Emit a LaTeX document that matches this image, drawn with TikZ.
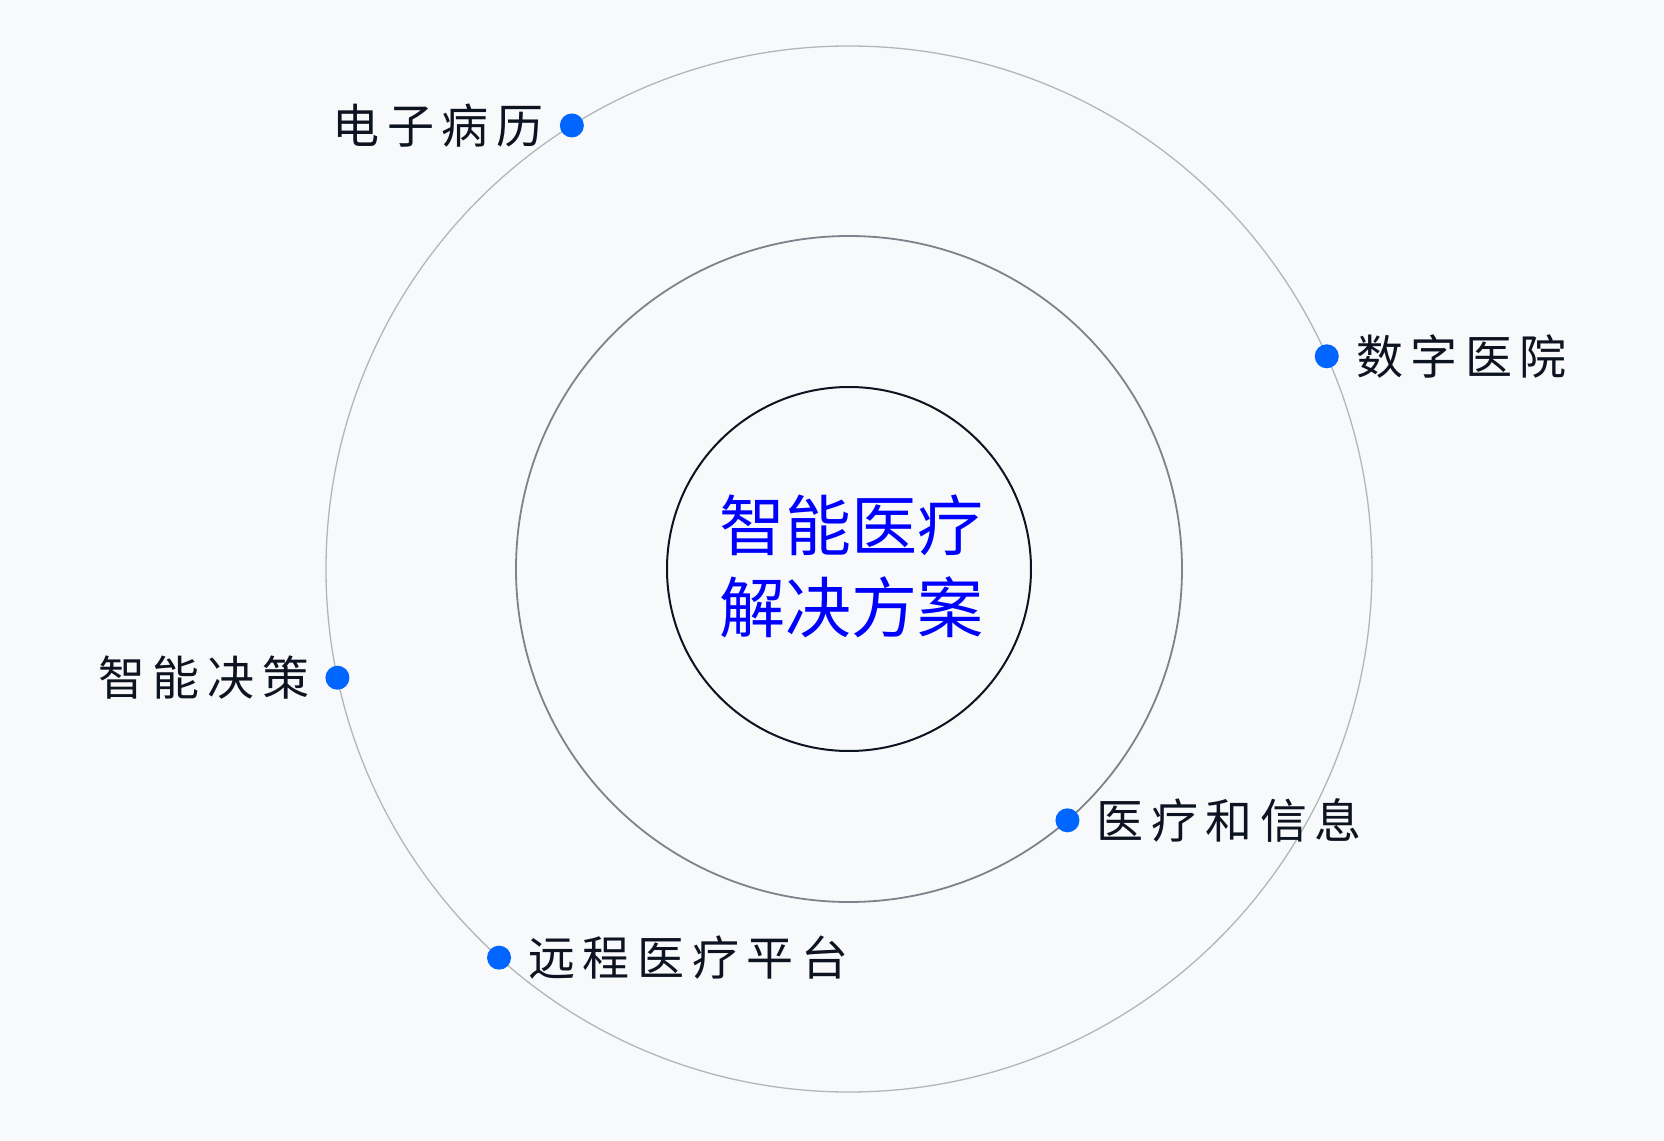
\documentclass[tikz,border=0pt]{standalone}
\usepackage{fontspec}
\usepackage{tikz}
\usetikzlibrary{positioning}
\newfontfamily\cjk[LetterSpace=16]{Noto Sans CJK SC}
\newfontfamily\song{Noto Sans CJK SC}
\definecolor{bg_c}{HTML}{F8F9FA}
\definecolor{ring_lt}{HTML}{B2B5BA}
\definecolor{ring_dk}{HTML}{7E828B}
\definecolor{ink_c}{HTML}{0D1321}
\definecolor{dot_c}{HTML}{0066FF}
\tikzset{
	ring/.style = {circle, inner sep=0pt, outer sep=0pt},
	ring_o/.style = {ring, draw=ring_lt, line width=1.3pt, minimum size=1046pt},
	ring_m/.style = {ring, draw=ring_dk, line width=1.8pt, minimum size=666pt},
	ring_i/.style = {ring, draw=ink_c, line width=2pt, minimum size=364pt},
	dot_b/.style = {circle, fill=dot_c, inner sep=0pt, minimum size=24pt},
	lbl/.style = {inner sep=0pt, text=ink_c, font=\cjk\fontsize{47}{56}\selectfont},
	title_t/.style = {align=center, inner sep=0pt, text=blue,
		font=\song\fontsize{66}{82}\selectfont}
}
\begin{document}
\begin{tikzpicture}[x=1pt,y=1pt]
\fill[bg_c] (-849,-571) rectangle (815,569);
\useasboundingbox (-849,-571) rectangle (815,569);
\node [ring_o] (outer) at (0,0) {};
\node [ring_m] (middle) at (0,0) {};
\node [ring_i] (inner) at (0,0) {};
\node [title_t] (title) at (3,3) {智能医疗\\解决方案};
\node [dot_b] (d_emr) at (outer.122.2) {};
\node [dot_b] (d_hosp) at (outer.24.1) {};
\node [dot_b] (d_dec) at (outer.192.9) {};
\node [dot_b] (d_info) at (middle.-49.9) {};
\node [dot_b] (d_tele) at (outer.228.6) {};
\node [lbl, left=16pt of d_emr] (l_emr) {电子病历};
\node [lbl, right=17pt of d_hosp] (l_hosp) {数字医院};
\node [lbl, left=16pt of d_dec] (l_dec) {智能决策};
\node [lbl, right=17pt of d_info] (l_info) {医疗和信息};
\node [lbl, right=17pt of d_tele] (l_tele) {远程医疗平台};
\end{tikzpicture}
\end{document}
